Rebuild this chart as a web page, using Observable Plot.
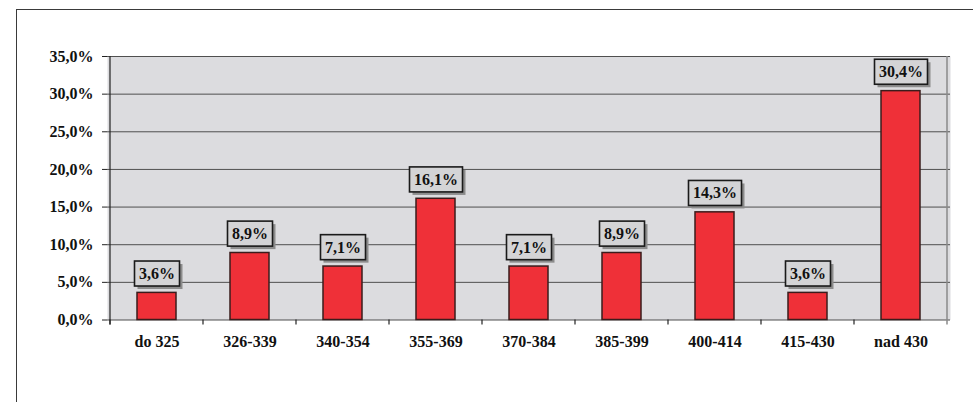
<!DOCTYPE html>
<html><head><meta charset="utf-8">
<script src="https://cdn.jsdelivr.net/npm/d3@7"></script>
<script src="https://cdn.jsdelivr.net/npm/@observablehq/plot@0.6"></script>
<style>
body{margin:0;background:#fff;width:973px;height:402px;overflow:hidden;position:relative}
#frame{position:absolute;left:16px;top:9px;width:2000px;height:2000px;border-left:1.5px solid #3a3a3a;border-top:1.5px solid #3a3a3a}
#chart{position:absolute;left:0;top:0}
#chart svg, #chart svg text{font-family:"Liberation Serif","Times New Roman",serif !important;font-weight:bold !important;font-size:16px}
</style></head><body><div id="frame"></div><div id="chart"></div>
<script>
const categories = ["do 325", "326-339", "340-354", "355-369", "370-384", "385-399", "400-414", "415-430", "nad 430"];
const shares = [3.6, 8.9, 7.1, 16.1, 7.1, 8.9, 14.3, 3.6, 30.4];
const yTicks = [0, 5, 10, 15, 20, 25, 30, 35];

const data = categories.map((c, i) => ({category: c, share: shares[i]}));
const fmt = v => v.toFixed(1).replace(".", ",") + "%";

// category boundary ticks + plot side edges, derived from the band scale
const boundaries = (index, {x, y}) => {
  const g = d3.create("svg:g");
  const off = (x.step() - x.bandwidth()) / 2;
  const y0 = y(0);
  const xs = categories.map(c => x(c) - off);
  xs.forEach(px => g.append("line").attr("x1", px).attr("x2", px).attr("y1", y0).attr("y2", y0 + 5).attr("stroke", "#222").attr("stroke-width", 1.2));
  const left = xs[0];
  const right = x(categories[categories.length - 1]) + x.bandwidth() + off;
  g.append("line").attr("x1", left).attr("x2", left).attr("y1", y(35)).attr("y2", y0 + 5).attr("stroke", "#222").attr("stroke-width", 1.2);
  g.append("line").attr("x1", right).attr("x2", right).attr("y1", y(35)).attr("y2", y0 + 5).attr("stroke", "#8a8a8a").attr("stroke-width", 1.5);
  return g.node();
};

const chart = Plot.plot({
  width: 973,
  height: 402,
  marginLeft: 107,
  marginRight: 23,
  marginTop: 56,
  marginBottom: 82.5,
  style: {fontFamily: "Liberation Serif", fontSize: "16px", fontWeight: "bold", color: "#111", background: "transparent"},
  x: {domain: categories, paddingInner: 0.584, paddingOuter: 0.292, label: null},
  y: {domain: [0, 35], label: null},
  marks: [
    Plot.frame({fill: "#dcdcdf", stroke: null}),
    Plot.ruleY(yTicks, {stroke: "#4f4f4f", strokeWidth: 1}),
    Plot.barY(data, {x: "category", y: "share", fill: "#ef3038", stroke: "#3a1c1c", strokeWidth: 1.5}),
    boundaries,
    Plot.axisY({ticks: yTicks, tickFormat: fmt, tickSize: 5, tickPadding: 9, label: null, stroke: "#222"}),
    Plot.axisX({tickSize: 0, tickPadding: 16, label: null}),
    Plot.text(data, {x: "category", y: "share", text: d => fmt(d.share), dy: -19, lineAnchor: "middle", className: "vlabels", fill: "#111"})
  ]
});
document.getElementById("chart").append(chart);

const NS = "http://www.w3.org/2000/svg";
d3.select(chart).selectAll("g.vlabels text").each(function() {
  const bb = this.getBBox();
  const parent = this.parentNode;
  const t = this.getAttribute("transform");
  const cx = bb.x + bb.width / 2, cy = bb.y + bb.height / 2;
  const w = bb.width + 9, h = 25;
  const mk = (dx, dy, fill, stroke) => {
    const r = document.createElementNS(NS, "rect");
    r.setAttribute("x", cx - w / 2 + dx);
    r.setAttribute("y", cy - h / 2 + dy);
    r.setAttribute("width", w);
    r.setAttribute("height", h);
    r.setAttribute("fill", fill);
    if (stroke) { r.setAttribute("stroke", stroke); r.setAttribute("stroke-width", 1.6); }
    else r.setAttribute("stroke", "none");
    if (t) r.setAttribute("transform", t);
    return r;
  };
  parent.insertBefore(mk(3, 3, "#8c8c8c", null), this);
  parent.insertBefore(mk(0, 0, "#d4d4d6", "#1a1a1a"), this);
});
</script>
</body></html>
